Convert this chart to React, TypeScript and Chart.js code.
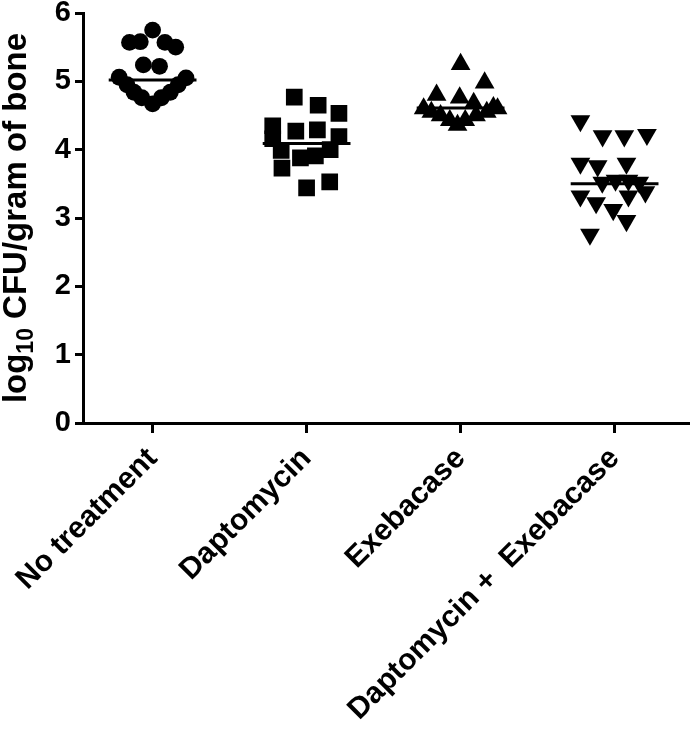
import React, { useEffect, useRef } from "react";
import { Chart, registerables } from "chart.js";

Chart.register(...registerables);

const groups = ["No treatment", "Daptomycin", "Exebacase", "Daptomycin +  Exebacase"];
const yTickValues = [0, 1, 2, 3, 4, 5, 6];

const noTreatment = [5.75, 5.57, 5.58, 5.57, 5.5, 5.24, 5.22, 5.06, 4.95, 4.84, 4.76, 4.67, 4.76, 4.84, 4.95, 5.05];
const noTreatmentJitter = [0, -0.15, -0.08, 0.08, 0.15, -0.06, 0.045, -0.217, -0.166, -0.121, -0.07, 0, 0.057, 0.115, 0.166, 0.217];

const daptomycin = [4.77, 4.65, 4.53, 4.35, 4.27, 4.29, 4.19, 4.16, 3.99, 3.88, 3.91, 4.0, 3.73, 3.44, 3.53];
const daptomycinJitter = [-0.08, 0.075, 0.21, -0.22, -0.07, 0.07, 0.21, -0.22, -0.165, -0.04, 0.057, 0.153, -0.16, 0, 0.15];

const exebacase = [5.25, 4.98, 4.8, 4.76, 4.68, 4.62, 4.6, 4.55, 4.5, 4.43, 4.36, 4.43, 4.5, 4.55, 4.6];
const exebacaseJitter = [0, 0.156, -0.156, -0.006, 0.085, 0.213, -0.24, -0.19, -0.13, -0.07, -0.02, 0.03, 0.1, 0.17, 0.24];

const combination = [4.42, 4.2, 4.2, 4.22, 3.8, 3.76, 3.8, 3.52, 3.55, 3.55, 3.52, 3.32, 3.22, 3.12, 3.32, 3.38, 2.96, 2.76];
const combinationJitter = [-0.222, -0.078, 0.063, 0.21, -0.222, -0.11, 0.077, -0.08, 0.006, 0.09, 0.16, -0.222, -0.12, -0.009, 0.09, 0.2, 0.077, -0.16];

const groupMeans = [5.02, 4.09, 4.61, 3.5];

const FONT = "'Liberation Sans', Arial, Helvetica, sans-serif";

export default function App() {
  const ref = useRef<HTMLCanvasElement>(null);

  useEffect(() => {
    document.body.style.margin = "0";
    const canvas = ref.current;
    if (!canvas) return;

    const mk = (vals: number[], jit: number[], idx: number) =>
      vals.map((v, i) => ({ x: idx + 1 + jit[i], y: v }));

    const markerDefs = [
      { data: mk(noTreatment, noTreatmentJitter, 0), style: "circle", radius: 8.4, rot: 0 },
      { data: mk(daptomycin, daptomycinJitter, 1), style: "rect", radius: 11.8, rot: 0 },
      { data: mk(exebacase, exebacaseJitter, 2), style: "triangle", radius: 11.4, rot: 0 },
      { data: mk(combination, combinationJitter, 3), style: "triangle", radius: 11.4, rot: 180 },
    ];

    const meanSets = groupMeans.map((m, i) => ({
      type: "line" as const,
      data: [
        { x: i + 1 - 0.285, y: m },
        { x: i + 1 + 0.285, y: m },
      ],
      borderColor: "#000",
      borderWidth: 3,
      pointRadius: 0,
      fill: false,
    }));

    const pointSets = markerDefs.map((d) => ({
      type: "scatter" as const,
      data: d.data,
      pointStyle: d.style,
      pointRadius: d.radius,
      pointRotation: d.rot,
      backgroundColor: "#000",
      borderColor: "#000",
      borderWidth: 0,
      showLine: false,
    }));

    const yTitle = {
      id: "yTitle",
      afterDraw(chart: any) {
        const ctx = chart.ctx as CanvasRenderingContext2D;
        const area = chart.chartArea;
        ctx.save();
        const big = `bold 33px ${FONT}`;
        const small = `bold 23px ${FONT}`;
        ctx.font = big;
        const w1 = ctx.measureText("log").width;
        const w3 = ctx.measureText(" CFU/gram of bone").width;
        ctx.font = small;
        const w2 = ctx.measureText("10").width;
        const total = w1 + w2 + w3;
        ctx.translate(26, (area.top + area.bottom) / 2);
        ctx.rotate(-Math.PI / 2);
        ctx.fillStyle = "#000";
        ctx.textBaseline = "alphabetic";
        ctx.textAlign = "left";
        let sx = -total / 2;
        ctx.font = big;
        ctx.fillText("log", sx, 0);
        sx += w1;
        ctx.font = small;
        ctx.fillText("10", sx, 7);
        sx += w2;
        ctx.font = big;
        ctx.fillText(" CFU/gram of bone", sx, 0);
        ctx.restore();
      },
    };

    const chart = new Chart(canvas, {
      data: { datasets: [...meanSets, ...pointSets] as any },
      options: {
        animation: false,
        responsive: false,
        layout: { padding: { top: 13, right: 0, left: 0, bottom: 0 } },
        plugins: { legend: { display: false }, tooltip: { enabled: false } },
        scales: {
          x: {
            type: "linear",
            min: 0.548,
            max: 4.478,
            afterBuildTicks: (s: any) => {
              s.ticks = groups.map((_, i) => ({ value: i + 1 }));
            },
            afterFit: (s: any) => {
              s.height = 309;
              s.paddingLeft = 0;
              s.paddingRight = 0;
            },
            ticks: {
              autoSkip: false,
              minRotation: 45,
              maxRotation: 45,
              color: "#000",
              padding: 8,
              font: { family: FONT, size: 30, weight: "bold" },
              callback: (v: any) => groups[Math.round(Number(v)) - 1] ?? "",
            },
            grid: { drawOnChartArea: false, drawTicks: true, tickLength: 10, color: "#000", lineWidth: 3 },
            border: { display: true, color: "#000", width: 3 },
          },
          y: {
            type: "linear",
            min: 0,
            max: 6,
            afterBuildTicks: (s: any) => {
              s.ticks = yTickValues.map((v) => ({ value: v }));
            },
            afterFit: (s: any) => {
              s.width = 83;
              s.paddingTop = 0;
              s.paddingBottom = 0;
            },
            ticks: {
              color: "#000",
              padding: 4,
              font: { family: FONT, size: 29, weight: "bold" },
            },
            grid: { drawOnChartArea: false, drawTicks: true, tickLength: 8, color: "#000", lineWidth: 3 },
            border: { display: true, color: "#000", width: 3 },
          },
        },
      } as any,
      plugins: [yTitle],
    });

    return () => chart.destroy();
  }, []);

  return (
    <div style={{ position: "absolute", left: 0, top: 0, width: 700, height: 732 }}>
      <canvas ref={ref} width={700} height={732} style={{ display: "block" }} />
    </div>
  );
}
